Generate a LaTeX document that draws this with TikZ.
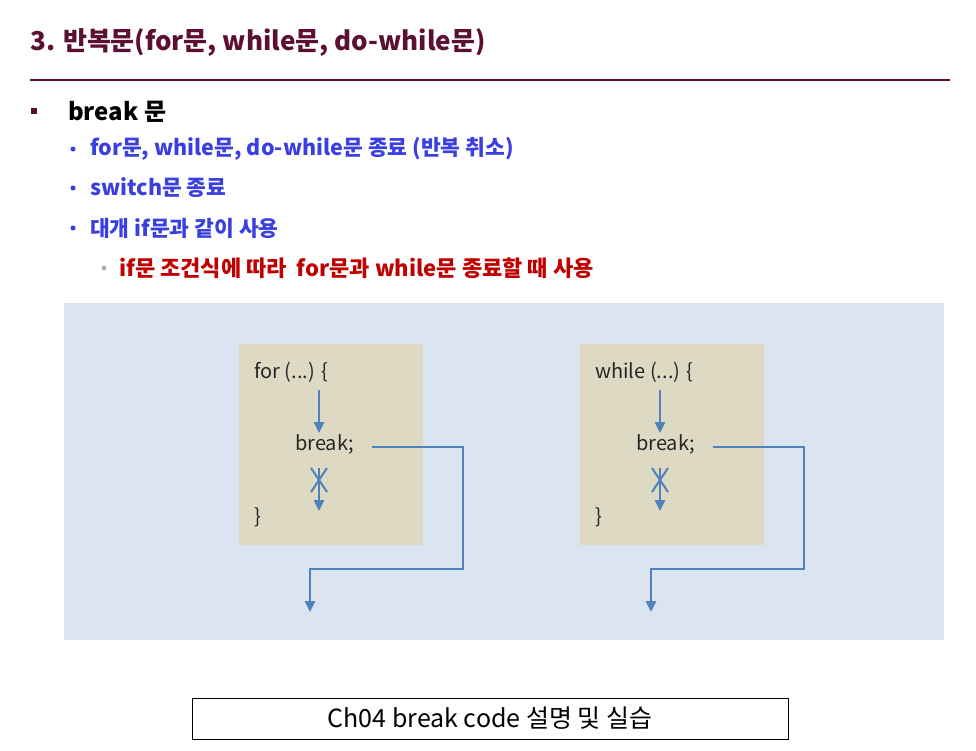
\documentclass[tikz,border=0pt]{standalone}
\usepackage{fontspec}
\setmainfont{Noto Sans CJK KR}
\usepackage{xcolor}
\definecolor{cTitle}{HTML}{5B0F33}
\definecolor{cItem}{HTML}{3A3FE0}
\definecolor{cRed}{HTML}{C00000}
\definecolor{cPanel}{HTML}{DBE5F1}
\definecolor{cBox}{HTML}{DDD9C3}
\definecolor{cArrow}{HTML}{4F81BD}
\usepackage{tikz}
\usetikzlibrary{positioning,arrows.meta}
\tikzset{
  title-text/.style={anchor=base west,inner sep=0,font=\fontsize{26}{30}\selectfont\bfseries,text=cTitle},
  head-text/.style={anchor=west,inner sep=0,font=\fontsize{24}{28}\selectfont\bfseries,text=black},
  item-text/.style={anchor=west,inner sep=0,font=\fontsize{21.5}{25}\selectfont\bfseries,text=cItem},
  sub-text/.style={anchor=west,inner sep=0,font=\fontsize{22}{26}\selectfont\bfseries,text=cRed},
  dot-blue/.style={circle,fill=cItem,inner sep=0,minimum size=5pt},
  dot-gray/.style={circle,fill=black!30,inner sep=0,minimum size=5pt},
  code-box/.style={fill=cBox,anchor=north west,inner sep=0,
    minimum width=184pt,minimum height=201pt},
  code-text/.style={anchor=west,inner sep=0,font=\fontsize{20}{23}\selectfont,text=black!85},
  arrow/.style={-{Triangle[length=11pt,width=10pt]},line width=2.6pt,draw=cArrow},
  cross/.style={line width=2pt,draw=cArrow},
}
\begin{document}
\begin{tikzpicture}[x=1pt,y=-1pt]
  \useasboundingbox[fill=white] (0,0) rectangle (976,750);
  % 제목
  \node[title-text] (title) at (30,50) {3. 반복문(for문, while문, do-while문)};
  \draw[cTitle,line width=2pt] (30,80) -- (950,80);
  % break 문 설명
  \node[fill=cTitle,inner sep=0,minimum size=6pt] (sq) at (34,111) {};
  \node[head-text] (head) at (68,112) {break 문};
  \foreach \name/\y/\txt in {i1/149/{for문, while문, do-while문 종료 (반복 취소)},
                             i2/188/{switch문 종료},
                             i3/228/{대개 if문과 같이 사용}} {
    \node[dot-blue] (\name-dot) at (73,\y) {};
    \node[item-text] (\name) at (90,\y) {\txt};
  }
  \node[dot-gray] (s1-dot) at (104,268) {};
  \node[sub-text] (s1) at (119,268) {if문 조건식에 따라\ \ for문과 while문 종료할 때 사용};
  % 그림 영역
  \fill[cPanel] (64,303) rectangle (944,640);
  \foreach \name/\dx in {for/0, while/341} {
    \begin{scope}[xshift=\dx pt]
      \node[code-box] (\name-box) at (239,344) {};
      \node[code-text] (\name-head) at (254,372) {\name\ (...) \{};
      \node[code-text] (\name-brk) at (295,444) {break;};
      \node[code-text] (\name-end) at (254,517) {\}};
      \coordinate (\name-a1) at (319,390);
      \coordinate (\name-a2) at (319,433);
      \coordinate (\name-b1) at (319,468);
      \coordinate (\name-b2) at (319,511);
      \coordinate (\name-turn) at (463,569);
      \coordinate (\name-exit) at (310,612);
      \draw[arrow] (\name-a1) -- (\name-a2);
      \draw[arrow] (\name-b1) -- (\name-b2);
      \draw[cross] (311,468) -- (327,492);
      \draw[cross] (327,468) -- (311,492);
      \draw[arrow] ([xshift=18pt,yshift=-3pt]\name-brk.east) -| (\name-turn) -| (\name-exit);
    \end{scope}
  }
  % 하단 박스
  \node[draw=black,line width=1pt,minimum width=596pt,minimum height=41pt,
    font=\fontsize{25}{29}\selectfont] (lab) at (490,718.5) {Ch04 break code 설명 및 실습};
\end{tikzpicture}
\end{document}
